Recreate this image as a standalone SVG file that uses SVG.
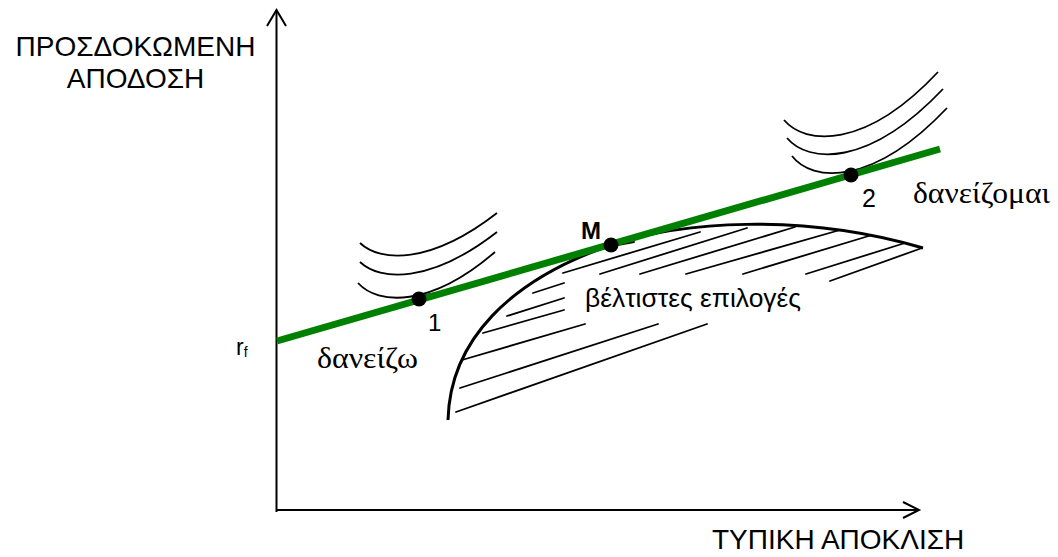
<svg xmlns="http://www.w3.org/2000/svg" width="1058" height="557" viewBox="0 0 1058 557">
<defs>
<style>
.sans{font-family:"Liberation Sans",Arial,sans-serif;fill:#000}
.serif{font-family:"Liberation Serif","DejaVu Serif","Times New Roman",serif;fill:#000}
.ic{fill:none;stroke:#000;stroke-width:1.8}
.hatch{fill:none;stroke:#000;stroke-width:1.8;stroke-linecap:round}
.ax{fill:none;stroke:#000;stroke-width:2}
.pt{fill:#000}
</style>
</defs>
<rect width="1058" height="557" fill="#fff"/>
<g id="axes">
<path class="ax" d="M276.5,512 V10"/>
<path class="ax" d="M267,26 L276.5,10 L286,26"/>
<path class="ax" d="M276,510 H919"/>
<path class="ax" d="M903,502 L919,510 L903,518"/>
</g>
<g id="hatching">
<path class="hatch" d="M533,293 L564,283 M507,316 L564,298 M483,333 L564,310 M462,360 L585,324 M460,388 L658,324 M456,412 L707,324 M563,273 L700,232 M600,274 L747,228 M640,274 L795,227 M686,274 L840,230 M743,274 L872,235 M806,274 L905,243 M830,281 L922,248 M612,246 L634,242"/>
</g>
<g id="frontier">
<path d="M448,420 C450,340 510,280 611,245 C680,222 800,212 923,248" fill="none" stroke="#000" stroke-width="3"/>
</g>
<g id="indiff1">
<path class="ic" d="M360,243 C380,262 430,265 497,213"/>
<path class="ic" d="M360,262 C380,281 430,284 497,232"/>
<path class="ic" d="M358,283 C378,305 430,308 495,252"/>
<path class="ic" d="M425,295 L437,293"/>
</g>
<g id="indiff2">
<path class="ic" d="M784,120 C805,145 865,150 938,72"/>
<path class="ic" d="M787,138 C808,163 868,168 943,89"/>
<path class="ic" d="M792,156 C812,182 872,187 947,108"/>
<path class="ic" d="M857,170 L870,168"/>
</g>
<g id="cml">
<path d="M277,341 L940,149" stroke="#008000" stroke-width="7" fill="none"/>
</g>
<g id="point1"><circle class="pt" cx="419" cy="299" r="7.5"/><text class="sans" x="428" y="331" font-size="24">1</text></g>
<g id="pointM"><circle class="pt" cx="611" cy="245" r="7.5"/><text class="sans" x="581" y="239" font-size="24" font-weight="bold">M</text></g>
<g id="point2"><circle class="pt" cx="851" cy="175" r="7.5"/><text class="sans" x="862" y="207" font-size="25">2</text></g>
<g id="labels">
<text class="sans" x="135.5" y="56" font-size="28" text-anchor="middle">ΠΡΟΣΔΟΚΩΜΕΝΗ</text>
<text class="sans" x="135.5" y="88" font-size="28" text-anchor="middle">ΑΠΟΔΟΣΗ</text>
<text class="sans" x="712" y="549" font-size="28">ΤΥΠΙΚΗ ΑΠΟΚΛΙΣΗ</text>
<text class="sans" x="236" y="355" font-size="23">r<tspan font-size="14" dy="2">f</tspan></text>
<text class="serif" x="317" y="368" font-size="30" textLength="101" lengthAdjust="spacingAndGlyphs">δανείζω</text>
<text class="serif" x="913" y="203" font-size="30" textLength="137" lengthAdjust="spacingAndGlyphs">δανείζομαι</text>
<text class="sans" x="585" y="307" font-size="26" textLength="216" lengthAdjust="spacingAndGlyphs">βέλτιστες επιλογές</text>
</g>
</svg>
